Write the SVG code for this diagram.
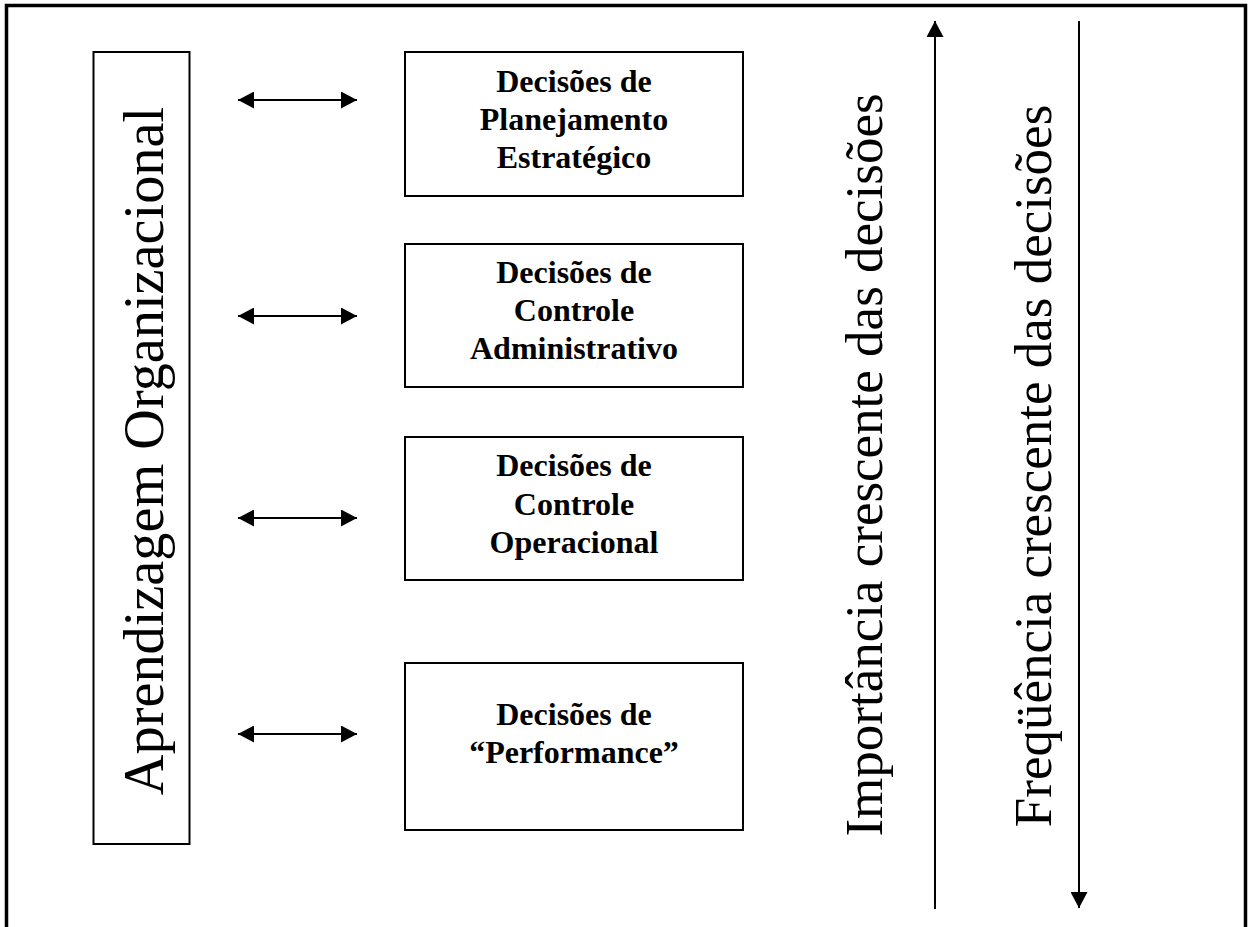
<svg xmlns="http://www.w3.org/2000/svg" width="1249" height="927" viewBox="0 0 1249 927">
  <style>
    .frame { fill: none; stroke: #000; stroke-width: 3.5; }
    .box { fill: #fff; stroke: #000; stroke-width: 2; }
    .link { fill: none; stroke: #000; stroke-width: 2; }
    .axis { fill: none; stroke: #000; stroke-width: 2; }
    .label { font-family: "Liberation Serif", "Times New Roman", serif; font-weight: bold; font-size: 32px; fill: #000; text-anchor: middle; }
    .big { font-family: "Liberation Serif", "Times New Roman", serif; font-size: 53px; fill: #000; text-anchor: middle; }
    .title { font-size: 56.3px; }
  </style>
  <defs>
    <marker id="head" markerUnits="userSpaceOnUse" markerWidth="17" markerHeight="17" refX="16" refY="8.5" orient="auto-start-reverse" viewBox="0 0 17 17">
      <path d="M0,0 L16,8.5 L0,17 Z" fill="#000"/>
    </marker>
  </defs>
  <rect width="1249" height="927" fill="#fff"/>

  <!-- open-bottomed page frame -->
  <path class="frame" d="M6.5,927 V5.5 H1245.5 V927"/>

  <g id="aprendizagem">
    <rect class="box" x="93.5" y="52" width="96" height="792"/>
    <text class="big title" transform="translate(163,451) rotate(-90)">Aprendizagem Organizacional</text>
  </g>

  <g id="planejamento">
    <rect class="box" x="405" y="52" width="338" height="144"/>
    <text class="label" x="574" y="92">Decisões de</text>
    <text class="label" x="574" y="130">Planejamento</text>
    <text class="label" x="574" y="168">Estratégico</text>
  </g>

  <g id="administrativo">
    <rect class="box" x="405" y="244" width="338" height="143"/>
    <text class="label" x="574" y="283">Decisões de</text>
    <text class="label" x="574" y="321">Controle</text>
    <text class="label" x="574" y="359">Administrativo</text>
  </g>

  <g id="operacional">
    <rect class="box" x="405" y="437" width="338" height="143"/>
    <text class="label" x="574" y="476">Decisões de</text>
    <text class="label" x="574" y="515">Controle</text>
    <text class="label" x="574" y="553">Operacional</text>
  </g>

  <g id="performance">
    <rect class="box" x="405" y="663" width="338" height="167"/>
    <text class="label" x="574" y="725">Decisões de</text>
    <text class="label" x="574" y="763">“Performance”</text>
  </g>

  <g id="importancia">
    <text class="big" transform="translate(882,465) rotate(-90)">Importância crescente das decisões</text>
  </g>

  <g id="frequencia">
    <text class="big" transform="translate(1051,466) rotate(-90)">Freqüência crescente das decisões</text>
  </g>

  <g id="connectors">
    <line class="link" x1="238" y1="100" x2="357" y2="100" marker-start="url(#head)" marker-end="url(#head)"/>
    <line class="link" x1="238" y1="316" x2="357" y2="316" marker-start="url(#head)" marker-end="url(#head)"/>
    <line class="link" x1="238" y1="518" x2="357" y2="518" marker-start="url(#head)" marker-end="url(#head)"/>
    <line class="link" x1="238" y1="734" x2="357" y2="734" marker-start="url(#head)" marker-end="url(#head)"/>
    <line class="axis" x1="935" y1="909" x2="935" y2="21" marker-end="url(#head)"/>
    <line class="axis" x1="1079" y1="21" x2="1079" y2="908" marker-end="url(#head)"/>
  </g>
</svg>
